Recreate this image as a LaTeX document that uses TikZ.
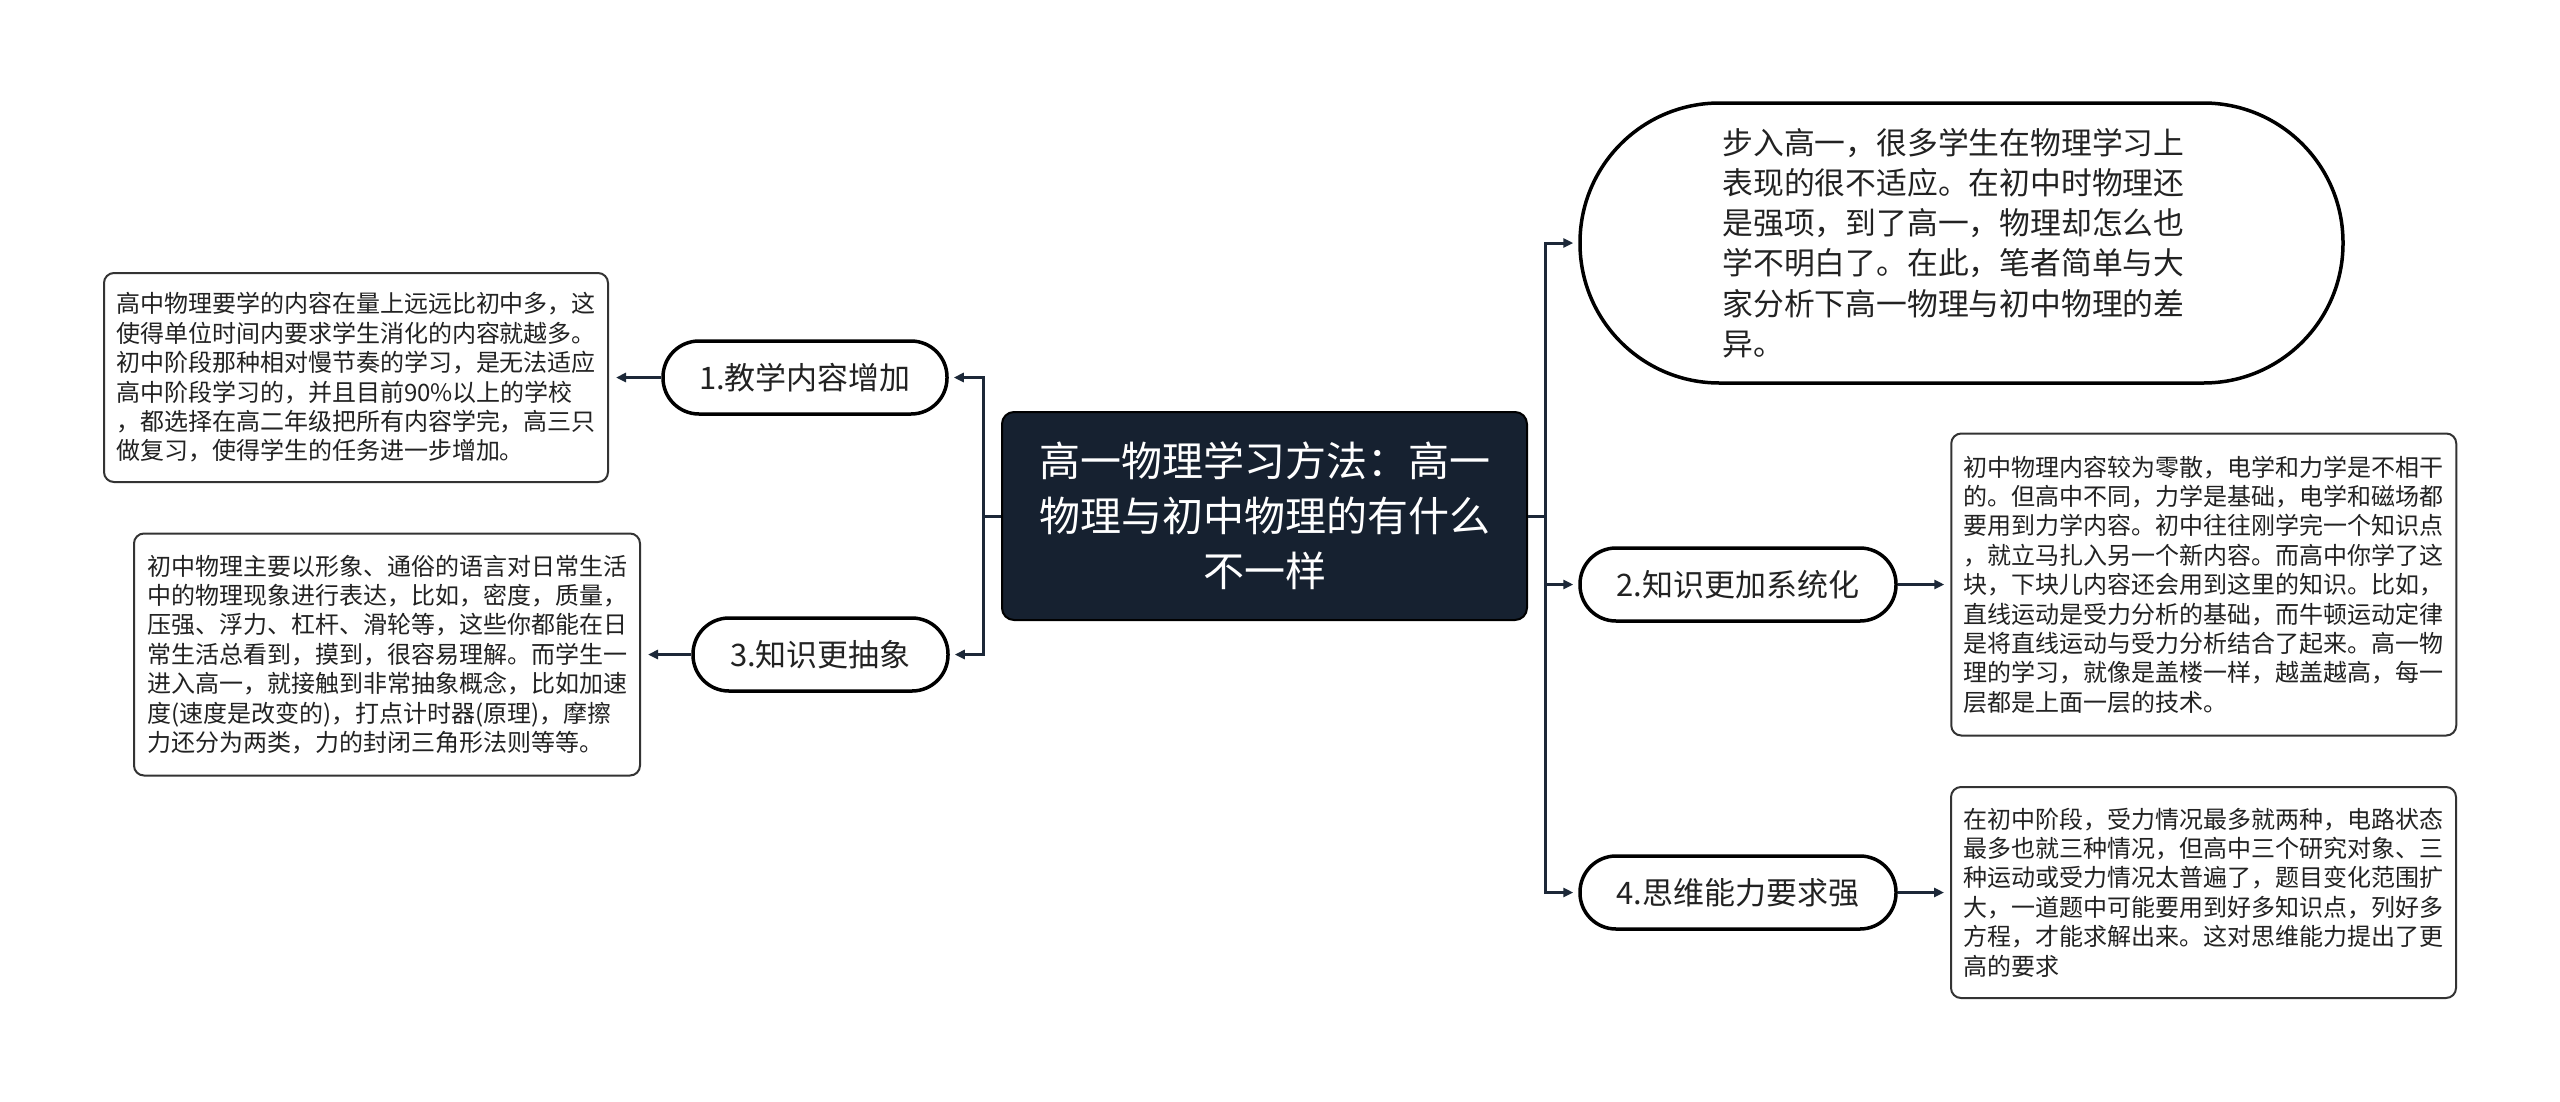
\documentclass[tikz,border=0pt]{standalone}
\usepackage{fontspec}
\setmainfont{Noto Sans CJK SC}
\usetikzlibrary{arrows.meta}
\definecolor{navy}{HTML}{162130}
\definecolor{lineC}{HTML}{1C2838}
\definecolor{txt}{HTML}{222222}
\begin{document}
\begin{tikzpicture}[x=1pt,y=-1pt,
  conn/.style={draw=lineC,line width=3pt},
  arr/.style={conn,-{Triangle[length=10pt,width=9pt]}},
  topic/.style={draw=black,line width=3.5pt,fill=white,rounded corners=36pt,minimum height=73pt,inner sep=0pt,font=\fontsize{31pt}{38pt}\selectfont,text=txt},
  textbox/.style={draw=black!80,line width=2pt,fill=white,rounded corners=10pt,inner sep=0pt,align=left,font=\fontsize{24pt}{29.4pt}\selectfont,text=txt},
  ]
\useasboundingbox (0,0) rectangle (2560,1101);
\fill[white] (0,0) rectangle (2560,1101);

% root
\node[fill=navy,draw=black,line width=2pt,rounded corners=12pt,minimum width=525pt,minimum height=208pt,inner sep=0pt,align=center,text=white,font=\fontsize{41pt}{55pt}\selectfont] (root) at (1264.5,516) {高一物理学习方法：高一\\物理与初中物理的有什么\\不一样};

% intro
\node[draw=black,line width=3.5pt,fill=white,rounded corners=139.5pt,minimum width=763pt,minimum height=280pt,inner sep=0pt,align=left,text=txt,font=\fontsize{30.8pt}{40.3pt}\selectfont] (intro) at (1961.5,243) {步入高一，很多学生在物理学习上\hspace*{16pt}\\表现的很不适应。在初中时物理还\\是强项，到了高一，物理却怎么也\\学不明白了。在此，笔者简单与大\\家分析下高一物理与初中物理的差\\异。};

% topics
\node[topic,minimum width=284pt] (n1) at (805,377.5) {1.教学内容增加};
\node[topic,minimum width=255pt] (n3) at (820.5,654.5) {3.知识更抽象};
\node[topic,minimum width=316pt] (n2) at (1738,584.5) {2.知识更加系统化};
\node[topic,minimum width=316pt] (n4) at (1738,892.5) {4.思维能力要求强};

% text boxes
\node[textbox,minimum width=504pt,minimum height=209pt] (b1) at (356,377.5) {高中物理要学的内容在量上远远比初中多，这\\使得单位时间内要求学生消化的内容就越多。\\初中阶段那种相对慢节奏的学习，是无法适应\\高中阶段学习的，并且目前90\%以上的学校\\，都选择在高二年级把所有内容学完，高三只\\做复习，使得学生的任务进一步增加。};

\node[textbox,minimum width=506pt,minimum height=242pt] (b3) at (387,654.5) {初中物理主要以形象、通俗的语言对日常生活\\中的物理现象进行表达，比如，密度，质量，\\压强、浮力、杠杆、滑轮等，这些你都能在日\\常生活总看到，摸到，很容易理解。而学生一\\进入高一，就接触到非常抽象概念，比如加速\\度(速度是改变的)，打点计时器(原理)，摩擦\\力还分为两类，力的封闭三角形法则等等。};

\node[textbox,minimum width=505pt,minimum height=302pt] (b2) at (2203.75,584.5) {初中物理内容较为零散，电学和力学是不相干\\的。但高中不同，力学是基础，电学和磁场都\\要用到力学内容。初中往往刚学完一个知识点\\，就立马扎入另一个新内容。而高中你学了这\\块，下块儿内容还会用到这里的知识。比如，\\直线运动是受力分析的基础，而牛顿运动定律\\是将直线运动与受力分析结合了起来。高一物\\理的学习，就像是盖楼一样，越盖越高，每一\\层都是上面一层的技术。};

\node[textbox,minimum width=505pt,minimum height=211pt] (b4) at (2203.5,892.5) {在初中阶段，受力情况最多就两种，电路状态\\最多也就三种情况，但高中三个研究对象、三\\种运动或受力情况太普遍了，题目变化范围扩\\大，一道题中可能要用到好多知识点，列好多\\方程，才能求解出来。这对思维能力提出了更\\高的要求};

% connectors
\coordinate (jl) at (983,516);
\coordinate (jr) at (1545,516);
\draw[conn] (root.west) -- (jl);
\draw[conn] (root.east) -- (jr);
\draw[arr,shorten >=5pt] (jl) |- (n1.east);
\draw[arr,shorten >=5pt] (jl) |- (n3.east);
\draw[arr,shorten >=5pt] (jr) |- (intro.west);
\draw[arr,shorten >=5pt] (jr) |- (n2.west);
\draw[arr,shorten >=5pt] (jr) |- (n4.west);
\draw[arr,shorten >=7pt] (n1.west) -- (b1.east);
\draw[arr,shorten >=7pt] (n3.west) -- (b3.east);
\draw[arr,shorten >=6pt] (n2.east) -- (b2.west);
\draw[arr,shorten >=6pt] (n4.east) -- (b4.west);
\end{tikzpicture}
\end{document}
